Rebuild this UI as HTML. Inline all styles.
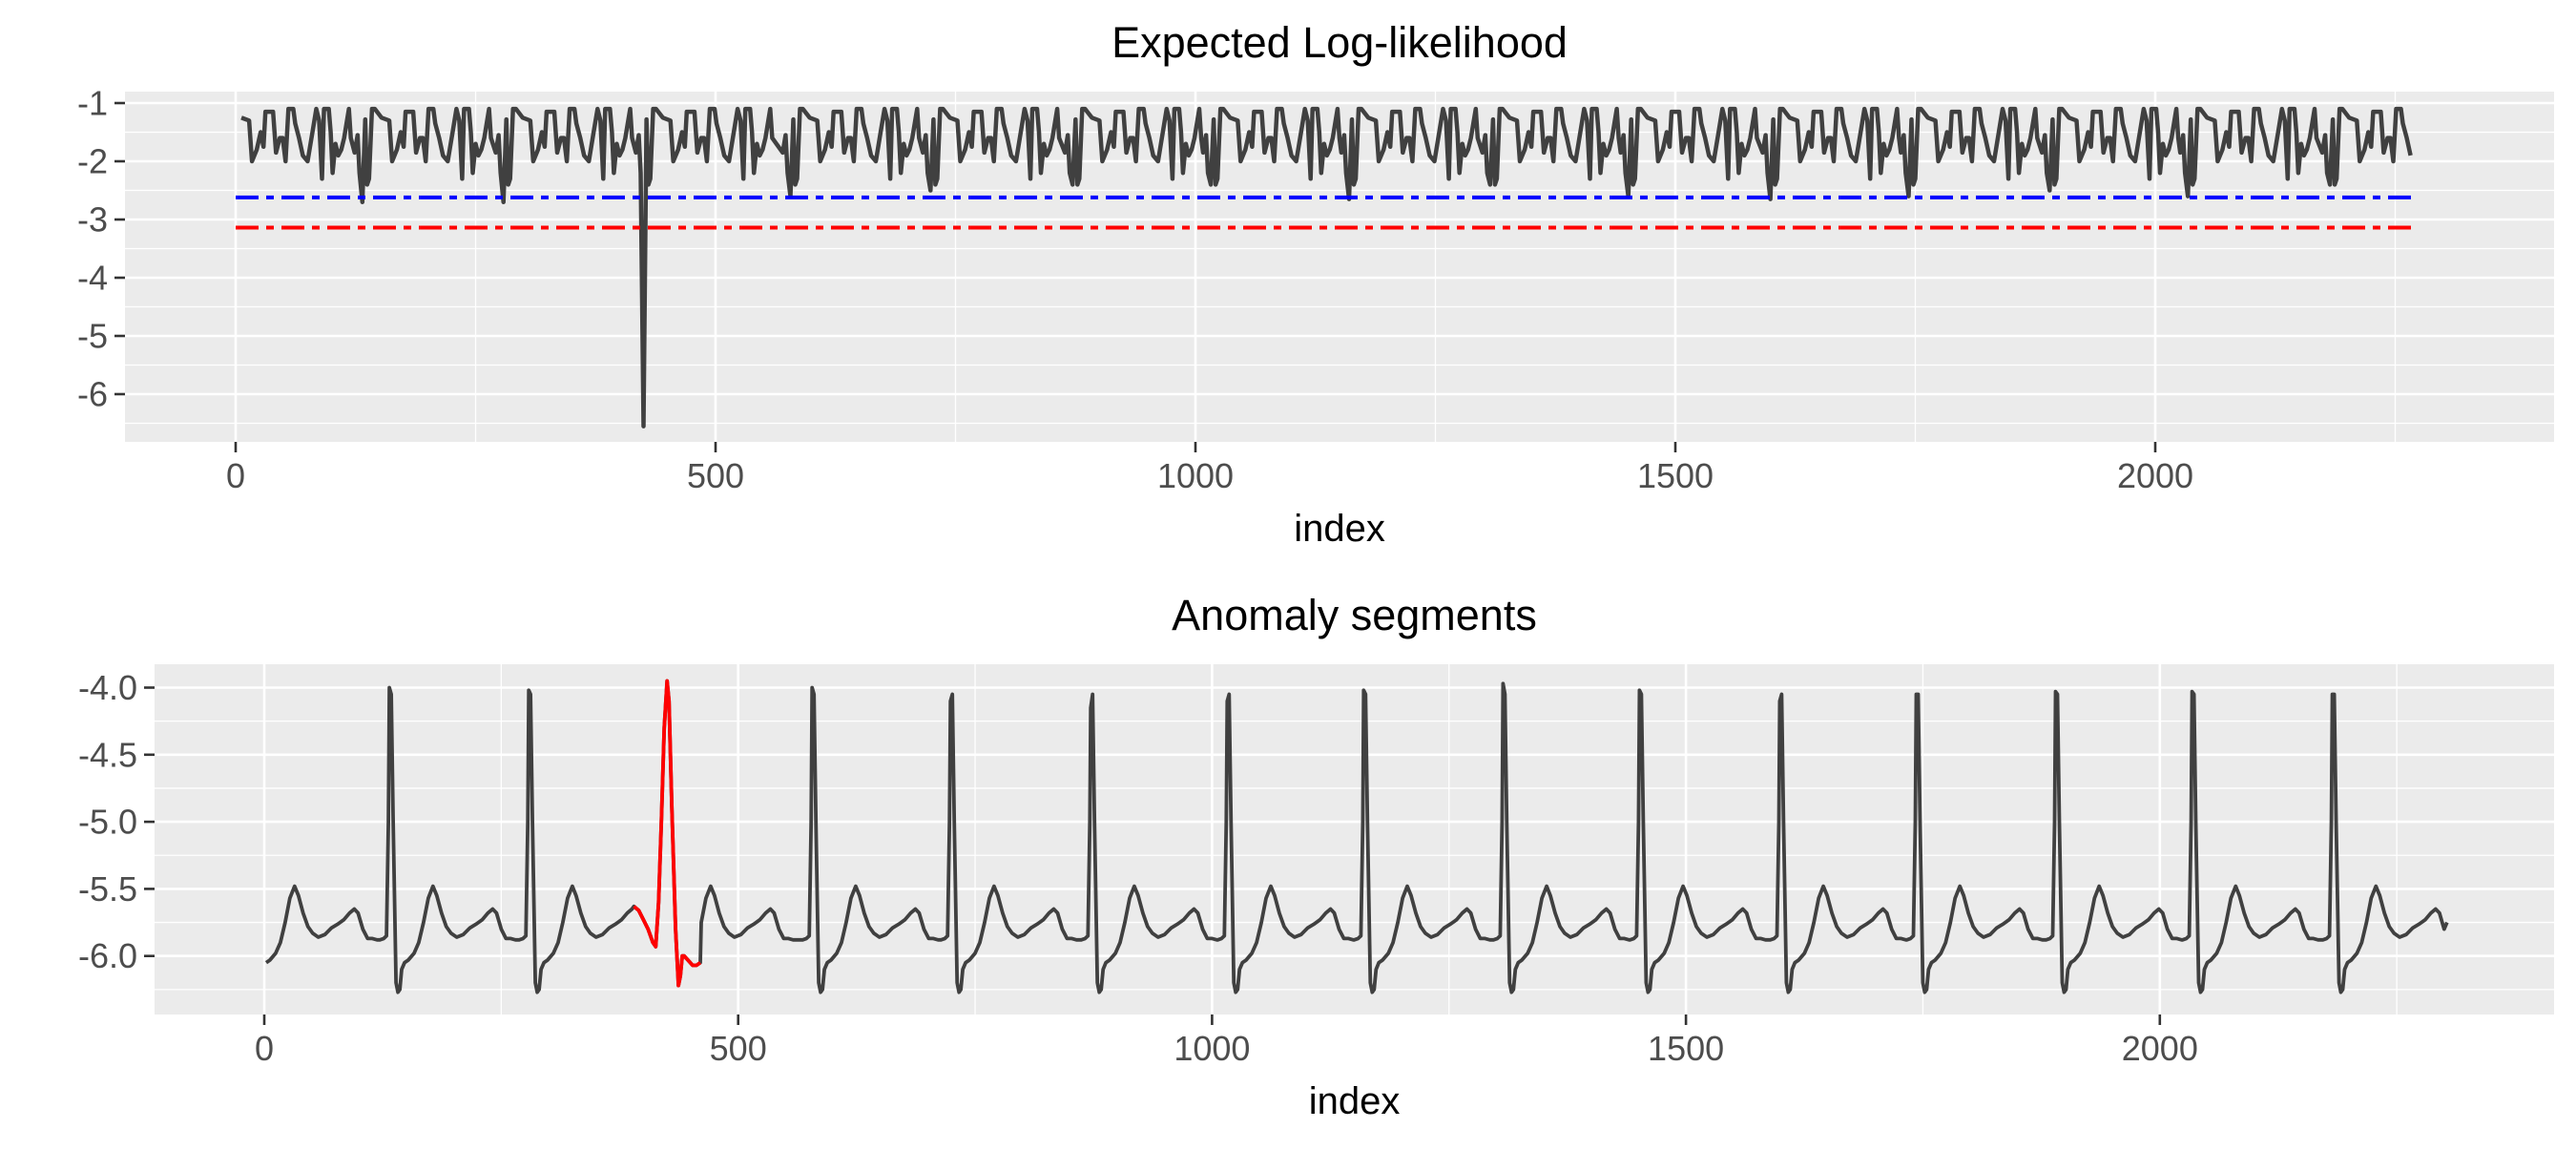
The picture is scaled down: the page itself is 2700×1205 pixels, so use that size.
<!DOCTYPE html>
<html><head><meta charset="utf-8"><style>
html,body{margin:0;padding:0;background:#fff}
svg text{font-family:"Liberation Sans",Arial,sans-serif}
</style></head><body>
<svg id="chart" width="2700" height="1200" viewBox="0 0 2700 1200" xmlns="http://www.w3.org/2000/svg">
<g id="top"></g>
<g id="bot"></g>
</svg>
<script>
// ---- data ----
const rPeaks = [132,279,425,578,724,872,1016,1160,1307,1451,1599,1743,1890,2034,2182];
const peakVals = [-4.0,-4.02,-3.95,-4.0,-4.1,-4.15,-4.1,-4.02,-3.97,-4.02,-4.1,-4.05,-4.03,-4.03,-4.05];
const ecgOff = [-10,-6,-3,-1,0,2,4,7,9,11,13,16,20,26,31,36,41,46,50,55,60,65,71,78,85,92,98,104,109,113,118,123,128,133];
const ecgVal = [-5.88,-5.87,-5.85,-5.0,-4.0,-4.05,-5.0,-6.2,-6.27,-6.25,-6.1,-6.05,-6.03,-5.98,-5.9,-5.75,-5.57,-5.48,-5.55,-5.68,-5.78,-5.83,-5.86,-5.84,-5.79,-5.76,-5.73,-5.68,-5.65,-5.68,-5.8,-5.87,-5.87,-5.88];
const anomX = [390,395,400,405,410,413,416,419,422,425,427,430,434,437,439,441,443,447,452,456,460];
const anomY = [-5.63,-5.66,-5.73,-5.8,-5.9,-5.93,-5.6,-5.0,-4.3,-3.95,-4.1,-4.9,-5.8,-6.22,-6.15,-6.0,-6.0,-6.03,-6.07,-6.07,-6.05];
const topOff = [-8,-5,-3,0,3,5,7,10,13,20,28,31,36,40,43,45,53,56,60,63,66,69,74,76,80,84,89,94,98,101,104,106,111,113,115,118,121,124,127,132,134];
const topVal = [-1.85,-1.55,-2.2,-2.5,-1.28,-2.4,-2.3,-1.1,-1.1,-1.25,-1.3,-2.0,-1.8,-1.5,-1.75,-1.15,-1.15,-1.85,-1.6,-1.6,-2.0,-1.1,-1.1,-1.35,-1.6,-1.9,-2.0,-1.5,-1.1,-1.3,-2.3,-1.1,-1.1,-1.5,-2.2,-1.7,-1.9,-1.8,-1.6,-1.1,-1.6];
const topDip = [-2.7,-2.7,-6.55,-2.6,-2.5,-2.4,-2.4,-2.65,-2.4,-2.6,-2.65,-2.6,-2.5,-2.6,-2.4];
const blueThreshold = -2.62;
const redThreshold = -3.14;
const topYTicks = [-1,-2,-3,-4,-5,-6];
const botYTicks = [-4.0,-4.5,-5.0,-5.5,-6.0];
const botYLabels = ["-4.0","-4.5","-5.0","-5.5","-6.0"];
const xTicks = [0,500,1000,1500,2000];
const topEnd = 2270, botEnd = 2303;

const NS="http://www.w3.org/2000/svg";
function mk(parent,tag,attrs){const e=document.createElementNS(NS,tag);for(const k in attrs)e.setAttribute(k,attrs[k]);parent.appendChild(e);return e;}

function buildTop(){
  const pts=[];
  const peaks=[-14].concat(rPeaks);
  peaks.forEach((p,k)=>{
    const next = k+1<peaks.length?peaks[k+1]:topEnd+200;
    topOff.forEach((o,j)=>{
      let v=topVal[j];
      if(o===0 && k>0) v=topDip[k-1];
      const x=p+o;
      if(x<0||x>topEnd) return;
      if(x>=next-8) return;
      pts.push([x,v]);
    });
  });
  return pts;
}
function buildEcg(){
  const pts=[];
  const peaks=[-14].concat(rPeaks);
  peaks.forEach((p,k)=>{
    const next = k+1<peaks.length?peaks[k+1]:botEnd+20;
    ecgOff.forEach((o,j)=>{
      let v=ecgVal[j];
      if(o===0 && k>0) v=peakVals[k-1];
      const x=p+o;
      if(x<0||x>botEnd) return;
      if(x>=next-10) return;
      pts.push([x,v]);
    });
  });
  let out=pts.filter(q=>q[0]<390||q[0]>460);
  anomX.forEach((x,i)=>out.push([x,anomY[i]]));
  out.sort((a,b)=>a[0]-b[0]);
  if(out[out.length-1][0]<botEnd) out.push([botEnd,-5.75]);
  return out;
}

function panel(g,cfg){
  const {L,R,T,B,x0,xs,yv0,yp0,ys}=cfg;
  const X=v=>x0+v*xs, Y=v=>yp0+(v-yv0)*ys;
  const bg=mk(g,'rect',{x:L,y:T,width:R-L,height:B-T,fill:'#ebebeb'});
  
  
  const grid=mk(g,'g',{});
  
  
  for(let i=0;i<cfg.yt.length-1;i++){const yy=Y((cfg.yt[i]+cfg.yt[i+1])/2);mk(grid,'line',{x1:L,x2:R,y1:yy,y2:yy,stroke:'#fff','stroke-width':1.3});}
  const ystep=cfg.yt[0]-cfg.yt[1];
  [cfg.yt[0]+ystep/2,cfg.yt[cfg.yt.length-1]-ystep/2].forEach(v=>{const yy=Y(v);if(yy>T&&yy<B)mk(grid,'line',{x1:L,x2:R,y1:yy,y2:yy,stroke:'#fff','stroke-width':1.3});});
  for(let v=-250;v<=2750;v+=500){const xx=X(v);if(xx>L&&xx<R)mk(grid,'line',{x1:xx,x2:xx,y1:T,y2:B,stroke:'#fff','stroke-width':1.3});}
  cfg.yt.forEach(v=>{const yy=Y(v);mk(grid,'line',{x1:L,x2:R,y1:yy,y2:yy,stroke:'#fff','stroke-width':2.6});});
  xTicks.forEach(v=>{const xx=X(v);mk(grid,'line',{x1:xx,x2:xx,y1:T,y2:B,stroke:'#fff','stroke-width':2.6});});
  const ya=mk(g,'g',{});
  
  
  cfg.yt.forEach((v,i)=>{const yy=Y(v);
    mk(ya,'line',{x1:L-11,x2:L,y1:yy,y2:yy,stroke:'#333','stroke-width':2.6});
    const t=mk(ya,'text',{x:L-18,y:yy+12.5,'text-anchor':'end','font-size':36,fill:'#4d4d4d'});t.textContent=cfg.yl[i];
    
    
  });
  const xa=mk(g,'g',{});
  
  
  xTicks.forEach(v=>{const xx=X(v);
    mk(xa,'line',{x1:xx,x2:xx,y1:B,y2:B+11,stroke:'#333','stroke-width':2.6});
    const t=mk(xa,'text',{x:xx,y:B+48,'text-anchor':'middle','font-size':36,fill:'#4d4d4d'});t.textContent=String(v);
    
    
  });
  const xt=mk(g,'text',{x:(L+R)/2,y:B+104,'text-anchor':'middle','font-size':40,fill:'#000'});xt.textContent='index';
  
  
  const tt=mk(g,'text',{x:(L+R)/2,y:T-36,'text-anchor':'middle','font-size':45,fill:'#000'});tt.textContent=cfg.title;
  
  
  return {X,Y};
}
function pathD(pts,X,Y){return pts.map((p,i)=>(i?'L':'M')+X(p[0]).toFixed(1)+','+Y(p[1]).toFixed(1)).join('');}

// top panel
const gT=document.getElementById('top');
const A=panel(gT,{L:131,R:2677,T:96,B:463,x0:247,xs:1.006,yv0:-1,yp0:108,ys:-61,yt:topYTicks,yl:topYTicks.map(String),title:'Expected Log-likelihood'});
const tl=mk(gT,'path',{d:pathD(buildTop(),A.X,A.Y),fill:'none',stroke:'#404040','stroke-width':4.5,'stroke-linejoin':'round'});


const bl=mk(gT,'line',{x1:A.X(0),x2:A.X(topEnd),y1:A.Y(blueThreshold),y2:A.Y(blueThreshold),stroke:'#0000ff','stroke-width':4,'stroke-dasharray':'24 8 8 8'});


const rl=mk(gT,'line',{x1:A.X(0),x2:A.X(topEnd),y1:A.Y(redThreshold),y2:A.Y(redThreshold),stroke:'#ff0000','stroke-width':4,'stroke-dasharray':'24 8 8 8'});



// bottom panel
const gB=document.getElementById('bot');
const Bp=panel(gB,{L:162,R:2677,T:696,B:1063,x0:277,xs:0.9934,yv0:-4,yp0:720.5,ys:-140.6,yt:botYTicks,yl:botYLabels,title:'Anomaly segments'});
const el=mk(gB,'path',{d:pathD(buildEcg(),Bp.X,Bp.Y),fill:'none',stroke:'#404040','stroke-width':3.8,'stroke-linejoin':'round'});


const an=mk(gB,'path',{d:pathD(anomX.map((x,i)=>[x,anomY[i]]),Bp.X,Bp.Y),fill:'none',stroke:'#ff0000','stroke-width':3.8,'stroke-linejoin':'round'});


</script>
</body></html>
